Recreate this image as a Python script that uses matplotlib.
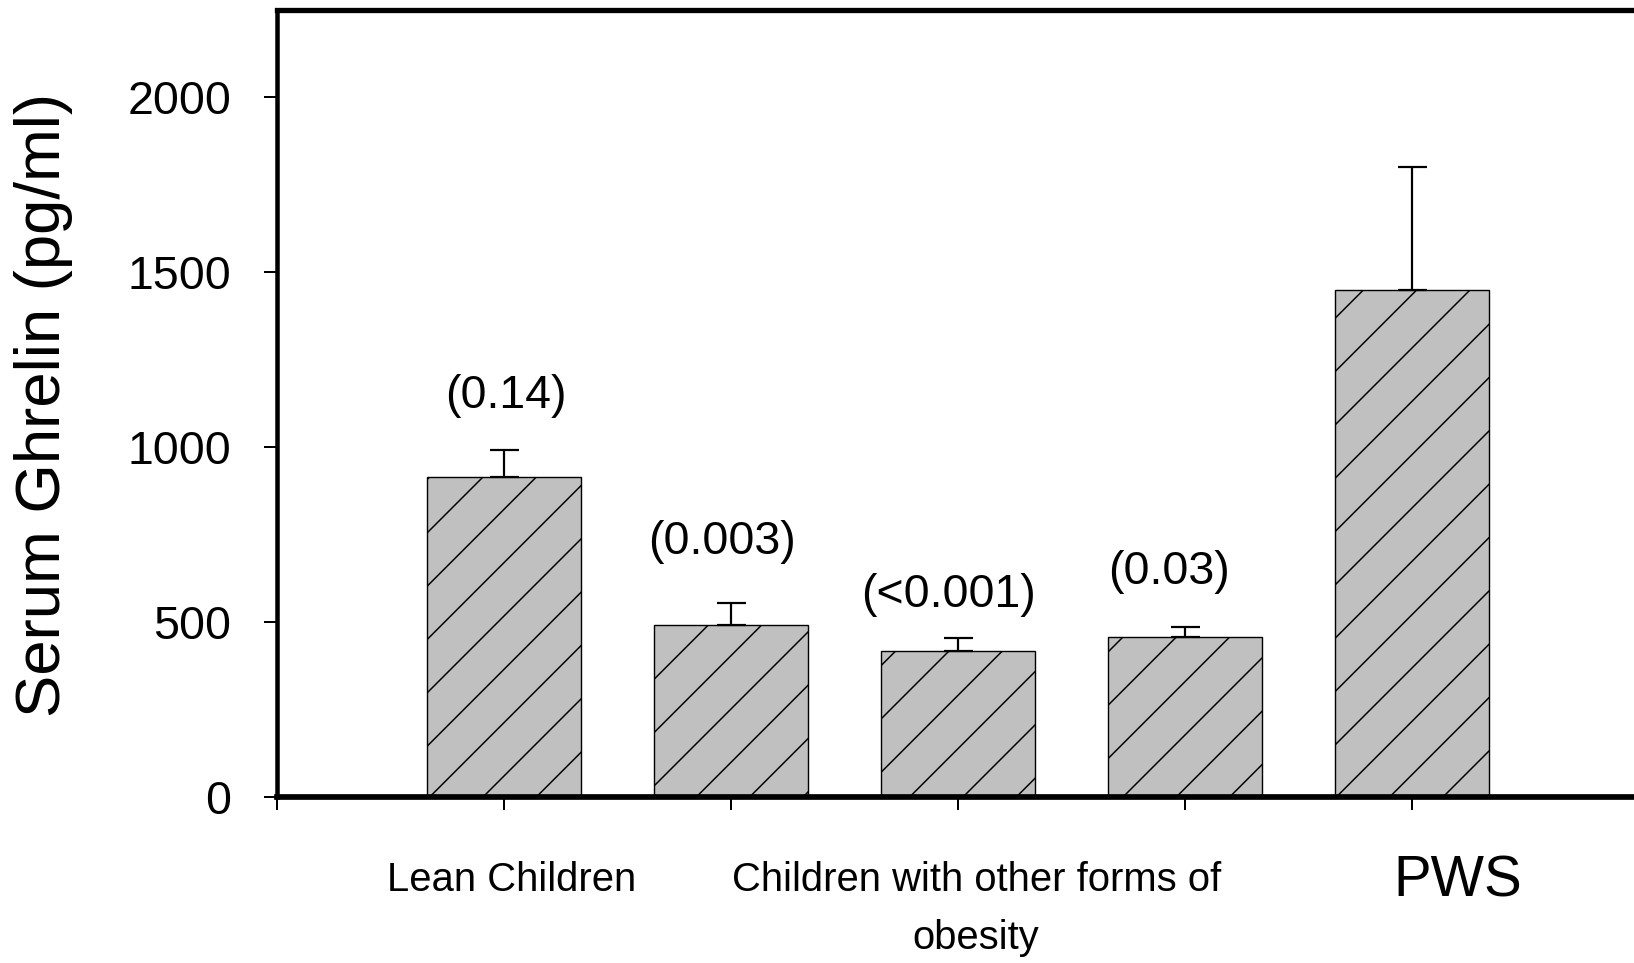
import matplotlib
matplotlib.use("Agg")
import matplotlib.pyplot as plt
from matplotlib import font_manager

# Serum ghrelin by group, mean with upper SEM bar
groups = ["Lean Children", "Obese 1", "Obese 2", "Obese 3", "PWS"]
ghrelin = [914, 491, 417, 458, 1449]
sem = [77, 63, 38, 27, 352]
p_text = ["(0.14)", "(0.003)", "(<0.001)", "(0.03)"]
p_ypos = [1146, 729, 577, 643]
p_xpos = [1.01, 1.96, 2.96, 3.93]

# dpi also sets the hatch spacing, so sizes below are given in pixels
DPI = 160
def px(v):
    return v * 72.0 / DPI

plt.rcParams['font.family'] = ['Liberation Sans', 'DejaVu Sans']
plt.rcParams['hatch.linewidth'] = px(1.5)

names = {f.name for f in font_manager.fontManager.ttflist}
if 'Liberation Sans Narrow' in names:
    narrow = dict(family=['Liberation Sans Narrow', 'DejaVu Sans'], fontsize=px(46))
else:
    narrow = dict(family=['Liberation Sans', 'DejaVu Sans'], fontsize=px(40))

fig = plt.figure(figsize=(1634/DPI, 963/DPI), dpi=DPI)
ax = fig.add_axes([277/1634, 1 - 797/963, 1362/1634, 787/963])

x = list(range(1, len(ghrelin) + 1))
ax.bar(x, ghrelin, width=0.68, color='#c0c0c0', edgecolor='black',
       linewidth=px(1.4), hatch='/', zorder=2)
ax.errorbar(x, ghrelin, yerr=[[0]*len(sem), sem], fmt='none', ecolor='black',
            elinewidth=px(2.2), capsize=px(14.5), capthick=px(2.2), zorder=3)

for xp, yp, t in zip(p_xpos, p_ypos, p_text):
    ax.text(xp, yp, t, ha='center', va='center', fontsize=px(46.5))

ax.set_xlim(0, 6)
ax.set_ylim(0, 2250)
ax.set_xticks(range(0, 7))
ax.set_xticklabels([])
ax.set_yticks([0, 500, 1000, 1500, 2000])
ax.tick_params(axis='both', direction='out', length=px(13), width=px(2))
ax.tick_params(axis='y', labelsize=px(46.5), pad=px(33))

ax.spines['right'].set_visible(False)
ax.spines['top'].set_linewidth(px(5.3))
ax.spines['bottom'].set_linewidth(px(5.7))
ax.spines['left'].set_linewidth(px(4.5))

# group labels under the axis
tr = ax.get_xaxis_transform()
ax.text(1.035, -0.105, "Lean Children", transform=tr, ha='center', va='center', **narrow)
ax.text(3.08, -0.105, "Children with other forms of", transform=tr, ha='center', va='center', **narrow)
ax.text(3.08, -0.179, "obesity", transform=tr, ha='center', va='center', **narrow)
ax.text(5.2, -0.108, "PWS", transform=tr, ha='center', va='center', fontsize=px(56.5))

fig.text(44/1634, 1 - 405/963, "Serum Ghrelin (pg/ml)", rotation=90,
         ha='center', va='center', fontsize=px(63.5))

fig.savefig("out.png", dpi=DPI)
